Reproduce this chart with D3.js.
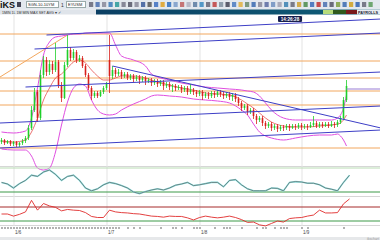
<!DOCTYPE html>
<meta charset="utf-8">
<style>
body { margin: 0; background: #fff; overflow: hidden; }
svg { display: block; font-family: "Liberation Sans", Arial, sans-serif; }
</style>
<body>
<div id="chart"></div>
<script src="https://d3js.org/d3.v7.min.js"></script>
<script>
// price bars, one per minute
var opens = [1.3124,1.3126,1.3123,1.3125,1.3122,1.3124,1.3121,1.3123,1.3125,1.3128,
  1.3138,1.3156,1.3174,1.3148,1.3191,1.3206,1.3194,1.3202,1.3196,1.3204,
  1.3181,1.3168,1.3201,1.3216,1.3208,1.3214,1.3206,1.3208,1.3200,1.3191,
  1.3178,1.3170,1.3173,1.3170,1.3174,1.3178,1.3206,1.3190,1.3196,1.3192,
  1.3194,1.3190,1.3192,1.3188,1.3190,1.3187,1.3189,1.3186,1.3188,1.3185,
  1.3186,1.3183,1.3185,1.3182,1.3184,1.3180,1.3182,1.3179,1.3180,1.3178,
  1.3179,1.3176,1.3178,1.3174,1.3176,1.3174,1.3172,1.3174,1.3170,1.3172,
  1.3170,1.3173,1.3171,1.3174,1.3172,1.3170,1.3172,1.3169,1.3171,1.3167,
  1.3163,1.3158,1.3160,1.3154,1.3156,1.3150,1.3146,1.3148,1.3143,1.3140,
  1.3142,1.3138,1.3140,1.3137,1.3139,1.3138,1.3140,1.3138,1.3140,1.3139,
  1.3141,1.3139,1.3140,1.3139,1.3141,1.3143,1.3140,1.3142,1.3140,1.3142,
  1.3140,1.3142,1.3141,1.3144,1.3148,1.3166];
var highs = [1.3128,1.3127,1.3126,1.3126,1.3125,1.3125,1.3124,1.3127,1.3130,1.3141,
  1.3160,1.3178,1.3176,1.3196,1.3210,1.3209,1.3206,1.3205,1.3223,1.3206,
  1.3184,1.3204,1.3231,1.3219,1.3217,1.3216,1.3211,1.3210,1.3202,1.3193,
  1.3180,1.3175,1.3175,1.3176,1.3180,1.3184,1.3231,1.3200,1.3198,1.3197,
  1.3196,1.3194,1.3194,1.3192,1.3192,1.3191,1.3191,1.3190,1.3190,1.3188,
  1.3188,1.3187,1.3187,1.3186,1.3186,1.3184,1.3184,1.3182,1.3182,1.3181,
  1.3181,1.3180,1.3180,1.3182,1.3178,1.3176,1.3176,1.3176,1.3174,1.3174,
  1.3175,1.3175,1.3176,1.3176,1.3174,1.3174,1.3174,1.3173,1.3173,1.3169,
  1.3165,1.3162,1.3162,1.3158,1.3158,1.3152,1.3150,1.3150,1.3145,1.3144,
  1.3144,1.3142,1.3142,1.3141,1.3141,1.3142,1.3142,1.3142,1.3142,1.3143,
  1.3143,1.3142,1.3142,1.3144,1.3150,1.3145,1.3144,1.3144,1.3144,1.3144,
  1.3145,1.3144,1.3146,1.3150,1.3169,1.3186];
var lows = [1.3122,1.3121,1.3122,1.3120,1.3120,1.3119,1.3119,1.3121,1.3123,1.3126,
  1.3136,1.3154,1.3144,1.3146,1.3188,1.3190,1.3191,1.3192,1.3194,1.3178,
  1.3164,1.3167,1.3199,1.3205,1.3206,1.3203,1.3204,1.3198,1.3189,1.3176,
  1.3166,1.3168,1.3168,1.3169,1.3172,1.3176,1.3173,1.3187,1.3189,1.3190,
  1.3187,1.3188,1.3186,1.3186,1.3184,1.3185,1.3182,1.3184,1.3181,1.3183,
  1.3180,1.3181,1.3179,1.3180,1.3176,1.3178,1.3176,1.3174,1.3175,1.3176,
  1.3173,1.3174,1.3171,1.3172,1.3171,1.3169,1.3170,1.3166,1.3168,1.3167,
  1.3168,1.3168,1.3169,1.3169,1.3167,1.3168,1.3166,1.3165,1.3164,1.3160,
  1.3155,1.3156,1.3151,1.3152,1.3147,1.3142,1.3144,1.3140,1.3137,1.3138,
  1.3135,1.3136,1.3134,1.3135,1.3135,1.3136,1.3135,1.3137,1.3136,1.3137,
  1.3136,1.3137,1.3136,1.3138,1.3139,1.3138,1.3138,1.3138,1.3139,1.3138,
  1.3139,1.3138,1.3139,1.3142,1.3146,1.3164];
var closes = [1.3126,1.3123,1.3125,1.3122,1.3124,1.3121,1.3123,1.3125,1.3128,1.3138,
  1.3156,1.3174,1.3148,1.3191,1.3206,1.3194,1.3202,1.3196,1.3204,1.3181,
  1.3168,1.3201,1.3216,1.3208,1.3214,1.3206,1.3208,1.3200,1.3191,1.3178,
  1.3170,1.3173,1.3170,1.3174,1.3178,1.3182,1.3190,1.3196,1.3192,1.3194,
  1.3190,1.3192,1.3188,1.3190,1.3187,1.3189,1.3186,1.3188,1.3185,1.3186,
  1.3183,1.3185,1.3182,1.3184,1.3180,1.3182,1.3179,1.3180,1.3178,1.3179,
  1.3176,1.3178,1.3174,1.3176,1.3174,1.3172,1.3174,1.3170,1.3172,1.3170,
  1.3173,1.3171,1.3174,1.3172,1.3170,1.3172,1.3169,1.3171,1.3167,1.3163,
  1.3158,1.3160,1.3154,1.3156,1.3150,1.3146,1.3148,1.3143,1.3140,1.3142,
  1.3138,1.3140,1.3137,1.3139,1.3138,1.3140,1.3138,1.3140,1.3139,1.3141,
  1.3139,1.3140,1.3139,1.3141,1.3143,1.3140,1.3142,1.3140,1.3142,1.3140,
  1.3142,1.3141,1.3144,1.3148,1.3166,1.3180];

// bollinger bands read at these bars
var bandBars = [0,4,8,10,12,14,16,18,20,22,24,26,28,30,32,34,36,38,40,44,48,50,52,56,60,64,68,72,76,80,82,84,86,88,90,94,98,102,106,110,112,113,114,115];
var bandUpper = [1.3134,1.3133,1.3135,1.3148,1.3178,1.3211,1.3224,1.3229,1.3230,1.3231,1.3232,1.3232,1.3233,1.3233,1.3233,1.3233,1.3233,1.3221,1.3210,1.3206,1.3200,1.3192,1.3189,1.3186,1.3183,1.3181,1.3179,1.3178,1.3177,1.3176,1.3175,1.3174,1.3170,1.3163,1.3156,1.3148,1.3146,1.3146,1.3146,1.3146,1.3148,1.3151,1.3158,1.3171];
var bandMid = [1.3125,1.3124,1.3126,1.3134,1.3148,1.3166,1.3178,1.3188,1.3192,1.3198,1.3204,1.3206,1.3203,1.3196,1.3190,1.3186,1.3186,1.3188,1.3190,1.3190,1.3188,1.3186,1.3184,1.3181,1.3178,1.3176,1.3173,1.3172,1.3171,1.3166,1.3162,1.3158,1.3153,1.3148,1.3144,1.3140,1.3139,1.3139,1.3140,1.3141,1.3142,1.3143,1.3146,1.3151];
var bandLower = [1.3117,1.3116,1.3116,1.3110,1.3098,1.3096,1.3098,1.3114,1.3141,1.3164,1.3178,1.3182,1.3180,1.3166,1.3156,1.3152,1.3151,1.3152,1.3156,1.3162,1.3167,1.3170,1.3171,1.3170,1.3169,1.3167,1.3166,1.3165,1.3163,1.3156,1.3151,1.3142,1.3134,1.3130,1.3128,1.3126,1.3128,1.3130,1.3131,1.3131,1.3132,1.3130,1.3126,1.3120];

// drawn levels and trend lines: [bar, price, bar, price]
var levels = [1.3232, 1.3205, 1.3188, 1.3175, 1.3161, 1.3118];
var orangeTrend = [[-0.5, 1.3189, 22, 1.3231]];
var blueTrends = [
  [15, 1.3231, 126.5, 1.3247],
  [11, 1.3217, 126.5, 1.3233],
  [8, 1.3179, 126.5, 1.3194],
  [-0.5, 1.3143, 126.5, 1.3160],
  [-0.5, 1.3118, 126.5, 1.3136],
  [37, 1.3200, 126.5, 1.3138]
];
var lastLevel = [115, 1.3177, 126.5, 1.3177];

// oscillators, one reading every 2 bars
var osc1 = [44,40,30,41,49,62,59,70,75,64,49,59,62,49,30,23,28,38,44,41,36,30,20,16,21,25,28,25,30,37,40,44,36,38,41,44,44,33,49,51,38,28,23,23,23,30,29,23,44,46,45,42,42,38,30,27,23,44,62];
var osc2 = [50,50,44,49,56,89,61,80,73,69,59,63,61,60,54,43,40,40,61,56,54,53,51,50,47,44,43,41,44,43,43,39,33,40,44,41,39,41,44,40,34,26,27,19,16,23,30,27,37,39,40,44,47,61,53,53,54,79,93];
var osc1Levels = [80, 20];
var osc2Levels = [70, 30];

var timeBars = [4, 35, 66, 100];
var timeLabels = ["1/6", "1/7", "1/8", "1/9"];
var tickBars = d3.range(0, 40).concat([42,44,46,53,57,58,60,64,65,66,71,74,75,76,80,85,87,88,91,93,94,95,100,102,114]);

var W = 380, H = 240;
var svg = d3.select("#chart").append("svg").attr("width", W).attr("height", H);

var x = d3.scaleLinear().domain([0, 126]).range([1.5, 379.5]);
var y = d3.scaleLinear().domain([1.3100, 1.3251]).range([166, 15]);
var y1 = d3.scaleLinear().domain([20, 80]).range([192, 168]);
var y2 = d3.scaleLinear().domain([30, 70]).range([221, 207]);

var defs = svg.append("defs");
var g2 = defs.append("linearGradient").attr("id", "bandgrad");
g2.append("stop").attr("offset", 0).attr("stop-color", "#0b3f63");
g2.append("stop").attr("offset", 1).attr("stop-color", "#0f5f78");

// ---- panel frames and grid
svg.append("g").selectAll("line").data([166.5, 196.5, 225.5]).enter().append("line")
  .attr("x1", 0).attr("x2", W).attr("y1", function (d) { return d; }).attr("y2", function (d) { return d; })
  .attr("stroke", "#d6d6d6").attr("stroke-width", 1);

svg.append("g").attr("transform", "translate(0,226)")
  .call(d3.axisBottom(x).tickValues(timeBars).tickSize(-211).tickFormat(""))
  .call(function (g) {
    g.select(".domain").remove();
    g.selectAll("line").attr("stroke", "#e3e3e3");
  });

var priceLine = d3.line()
  .x(function (d) { return x(d[0]); })
  .y(function (d) { return y(d[1]); });

// horizontal levels
svg.append("g").selectAll("line").data(levels).enter().append("line")
  .attr("x1", 0).attr("x2", W)
  .attr("y1", function (d) { return y(d); }).attr("y2", function (d) { return y(d); })
  .attr("stroke", "#f2a75e").attr("stroke-width", 1);

svg.append("g").selectAll("path").data(orangeTrend).enter().append("path")
  .attr("d", function (t) { return priceLine([[t[0], t[1]], [t[2], t[3]]]); })
  .attr("stroke", "#f2a75e").attr("fill", "none").attr("stroke-width", 1);

// bands
function bandPath(vals) {
  return d3.line()
    .x(function (d, i) { return x(bandBars[i]); })
    .y(function (d) { return y(d); })
    .curve(d3.curveMonotoneX)(vals);
}
svg.append("g").selectAll("path").data([bandUpper, bandLower]).enter().append("path")
  .attr("d", bandPath).attr("fill", "none").attr("stroke", "#e04ee0").attr("stroke-width", 1);
svg.append("path").attr("d", bandPath(bandMid)).attr("fill", "none")
  .attr("stroke", "#e23a3a").attr("stroke-width", 0.7);

// candles
var up = "#1fcf2a", down = "#d8201c";
var bars = closes.map(function (c, i) {
  return { i: i, o: opens[i], h: highs[i], l: lows[i], c: c };
});
var cg = svg.append("g");
cg.selectAll("line").data(bars).enter().append("line")
  .attr("x1", function (d) { return x(d.i); }).attr("x2", function (d) { return x(d.i); })
  .attr("y1", function (d) { return y(d.h); }).attr("y2", function (d) { return y(d.l); })
  .attr("stroke", function (d) { return d.c >= d.o ? up : down; }).attr("stroke-width", 0.8);
cg.selectAll("rect").data(bars).enter().append("rect")
  .attr("x", function (d) { return x(d.i) - 0.8; }).attr("width", 1.6)
  .attr("y", function (d) { return y(Math.max(d.o, d.c)); })
  .attr("height", function (d) { return Math.max(0.8, Math.abs(y(d.o) - y(d.c))); })
  .attr("fill", function (d) { return d.c >= d.o ? up : down; });

// trend lines
svg.append("g").selectAll("path").data(blueTrends).enter().append("path")
  .attr("d", function (t) { return priceLine([[t[0], t[1]], [t[2], t[3]]]); })
  .attr("stroke", "#3d3fc6").attr("fill", "none").attr("stroke-width", 1);
svg.append("path").attr("d", priceLine([[lastLevel[0], lastLevel[1]], [lastLevel[2], lastLevel[3]]]))
  .attr("stroke", "#9a7fd6").attr("fill", "none").attr("stroke-width", 1.2);

// clock
svg.append("rect").attr("x", 278).attr("y", 16).attr("width", 24).attr("height", 6).attr("rx", 1)
  .attr("fill", "#18204e");
svg.append("text").attr("x", 290).attr("y", 20.8).attr("text-anchor", "middle").attr("font-size", 4.6)
  .attr("font-weight", "bold").attr("fill", "#fff").text("14:26:28");

// ---- oscillator panels
svg.append("g").selectAll("line").data(osc1Levels).enter().append("line")
  .attr("x1", 0).attr("x2", W).attr("y1", function (d) { return y1(d); }).attr("y2", function (d) { return y1(d); })
  .attr("stroke", function (d, i) { return i ? "#3c9a48" : "#b9dcb4"; }).attr("stroke-width", 1);
var osc1Line = d3.line().x(function (d, i) { return x(i * 2); }).y(function (d) { return y1(d); });
svg.append("path").attr("d", osc1Line(osc1)).attr("fill", "none").attr("stroke", "#8fe6e6").attr("stroke-width", 1.6);
svg.append("path").attr("d", osc1Line(osc1)).attr("fill", "none").attr("stroke", "#5a5a5a").attr("stroke-width", 0.7);

svg.append("g").selectAll("line").data(osc2Levels).enter().append("line")
  .attr("x1", 0).attr("x2", W).attr("y1", function (d) { return y2(d); }).attr("y2", function (d) { return y2(d); })
  .attr("stroke", function (d, i) { return i ? "#3c9a48" : "#a62a2a"; }).attr("stroke-width", 1);
var osc2Line = d3.line().x(function (d, i) { return x(i * 2); }).y(function (d) { return y2(d); });
svg.append("path").attr("d", osc2Line(osc2)).attr("fill", "none").attr("stroke", "#e02a2a").attr("stroke-width", 0.9);

// ---- time axis
svg.append("g").attr("transform", "translate(0,227)")
  .call(d3.axisBottom(x).tickValues(tickBars).tickSize(2).tickFormat(""))
  .call(function (g) {
    g.select(".domain").remove();
    g.selectAll("line").attr("stroke", "#222").attr("stroke-width", 0.7);
  });
svg.append("g").attr("transform", "translate(0,227)")
  .call(d3.axisBottom(x).tickValues(timeBars).tickSize(0).tickPadding(4)
    .tickFormat(function (d, i) { return timeLabels[i]; }))
  .call(function (g) {
    g.select(".domain").remove();
    g.selectAll("text").attr("font-size", 4.5).attr("fill", "#444").attr("text-anchor", "start").attr("dx", 1);
  });

svg.append("rect").attr("y", 237).attr("width", W).attr("height", 3).attr("fill", "#e6e8ea");
svg.append("text").attr("x", 379).attr("y", 239.5).attr("text-anchor", "end").attr("font-size", 3.5)
  .attr("fill", "#999").text("ikschart");

// ---- toolbar (drawn last, on top)
svg.append("rect").attr("x", 0).attr("y", 0).attr("width", W).attr("height", 9.5).attr("fill", "#e3e8ee");
svg.append("text").attr("x", 0).attr("y", 8.2).attr("font-size", 9).attr("font-weight", "bold")
  .attr("fill", "#111").text("iKS");
svg.append("rect").attr("x", 17).attr("y", 2).attr("width", 4).attr("height", 5).attr("fill", "#445");
svg.append("rect").attr("x", 26.5).attr("y", 1.5).attr("width", 32).attr("height", 6).attr("fill", "#fff").attr("stroke", "#9aa");
svg.append("text").attr("x", 28).attr("y", 6.3).attr("font-size", 4).attr("fill", "#222").text("SGN-10-10YM");
svg.append("text").attr("x", 61).attr("y", 6.5).attr("font-size", 5).attr("fill", "#333").text("1");
svg.append("rect").attr("x", 66.5).attr("y", 1.5).attr("width", 19).attr("height", 6).attr("fill", "#fff").attr("stroke", "#9aa");
svg.append("text").attr("x", 68).attr("y", 6.3).attr("font-size", 4).attr("fill", "#222").text("EYUSM");

var iconColors = ["#667","#4a6fb0","#889","#3a7ab8","#2a9a9a","#778","#556","#8a8a9a","#3a5a9a","#555",
  "#3d6fc0","#e0a020","#2f6fc0","#7a9ac8","#c06060","#b0b0c0","#5a7aa0","#3a8ac0","#667","#c04040",
  "#8090a0","#445","#4a7ac0","#e0b040","#6a8a6a","#3a6ab0","#889","#5a6aa0","#7090c0","#a0a0b0",
  "#3a80b0","#667","#d0a030","#4a8a4a","#3a6ab8","#c03030","#4a70b0","#556","#80a040","#3a6ab0",
  "#d0a020","#3060b0","#667","#5a9a5a"];
svg.append("g").selectAll("rect").data(iconColors).enter().append("rect")
  .attr("x", function (d, i) { return 89 + i * 6.5; })
  .attr("y", 2).attr("width", 4.2).attr("height", 5)
  .attr("fill", function (d) { return d; }).attr("opacity", 0.85);

svg.append("rect").attr("x", 0).attr("y", 9.5).attr("width", 96).attr("height", 5).attr("fill", "#dfe4ea");
svg.append("text").attr("x", 2).attr("y", 13.6).attr("font-size", 3.6).attr("fill", "#333")
  .text("1MIN     1L      1M     MIN  MAX  SET  AVG ▾ ✓");
svg.append("rect").attr("x", 96).attr("y", 9.5).attr("width", W - 96).attr("height", 5).attr("fill", "url(#bandgrad)");
svg.append("rect").attr("x", 323).attr("y", 10).attr("width", 10).attr("height", 4).attr("fill", "#b6dc7a");
svg.append("rect").attr("x", 333).attr("y", 10).attr("width", 13).attr("height", 4).attr("fill", "#2f5a1c");
svg.append("rect").attr("x", 346).attr("y", 10).attr("width", 11).attr("height", 4).attr("fill", "#7a1a1a");
svg.append("rect").attr("x", 357).attr("y", 9.5).attr("width", 23).attr("height", 5).attr("fill", "#e9edf1");
svg.append("text").attr("x", 358).attr("y", 13.6).attr("font-size", 3.8).attr("font-weight", "bold")
  .attr("fill", "#223").text("PAYROLLS");
</script>
